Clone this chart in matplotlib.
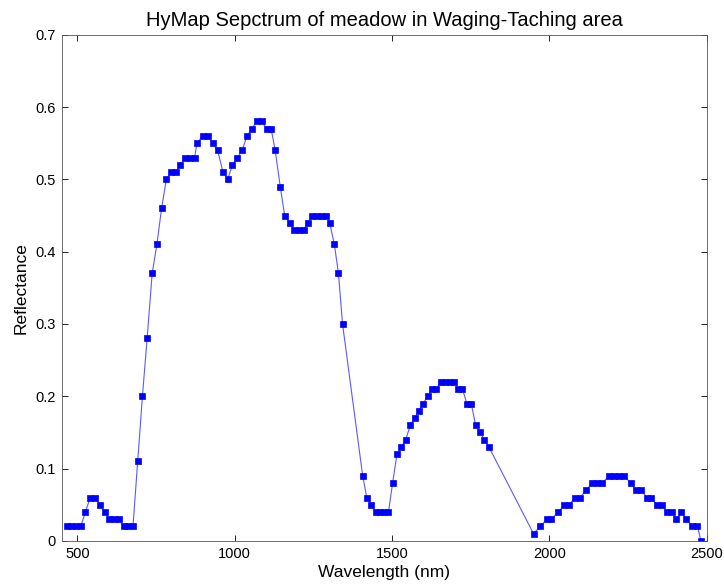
import matplotlib
matplotlib.use("Agg")
import matplotlib.pyplot as plt
from matplotlib.ticker import FuncFormatter

# wavelengths (nm) and reflectance, band by band
wavelength = [
    466, 481, 496, 511, 526, 541, 557, 571, 587, 602, 617, 632, 647, 662,
    677, 692, 707, 722, 738, 753, 768, 783, 798, 813, 828, 843, 858, 873,
    880, 899, 915, 930, 946, 963, 978, 993, 1009, 1024, 1039, 1055, 1070,
    1086, 1102, 1116, 1129, 1145, 1159, 1175, 1190, 1204, 1219, 1232, 1247,
    1262, 1277, 1291, 1302, 1317, 1330, 1343,
    1407, 1420, 1434, 1448, 1461, 1475, 1489, 1502, 1516, 1530, 1544, 1558,
    1572, 1585, 1599, 1613, 1627, 1641, 1655, 1669, 1683, 1697, 1711, 1724,
    1738, 1752, 1766, 1780, 1794, 1808,
    1950, 1971, 1992, 2006, 2029, 2047, 2063, 2082, 2098, 2117, 2136, 2152,
    2168, 2190, 2206, 2222, 2238, 2259, 2276, 2292, 2310, 2324, 2341, 2357,
    2373, 2389, 2404, 2420, 2435, 2455, 2471, 2482,
]
reflectance = [
    0.02, 0.02, 0.02, 0.02, 0.04, 0.06, 0.06, 0.05, 0.04, 0.03, 0.03, 0.03,
    0.02, 0.02, 0.02, 0.11, 0.20, 0.28, 0.37, 0.41, 0.46, 0.50, 0.51, 0.51,
    0.52, 0.53, 0.53, 0.53,
    0.55, 0.56, 0.56, 0.55, 0.54, 0.51, 0.50, 0.52, 0.53, 0.54, 0.56, 0.57,
    0.58, 0.58, 0.57, 0.57, 0.54, 0.49, 0.45, 0.44, 0.43, 0.43, 0.43, 0.44,
    0.45, 0.45, 0.45, 0.45, 0.44, 0.41, 0.37, 0.30,
    0.09, 0.06, 0.05, 0.04, 0.04, 0.04, 0.04, 0.08, 0.12, 0.13, 0.14, 0.16,
    0.17, 0.18, 0.19, 0.20, 0.21, 0.21, 0.22, 0.22, 0.22, 0.22, 0.21, 0.21,
    0.19, 0.19, 0.16, 0.15, 0.14, 0.13,
    0.01, 0.02, 0.03, 0.03, 0.04, 0.05, 0.05, 0.06, 0.06, 0.07, 0.08, 0.08,
    0.08, 0.09, 0.09, 0.09, 0.09, 0.08, 0.07, 0.07, 0.06, 0.06, 0.05, 0.05,
    0.04, 0.04, 0.03, 0.04, 0.03, 0.02, 0.02, 0.00,
]

x_ticks = [500, 1000, 1500, 2000, 2500]
y_ticks = [0, 0.1, 0.2, 0.3, 0.4, 0.5, 0.6, 0.7]

plt.rcParams["font.family"] = ["Liberation Sans", "DejaVu Sans"]

fig = plt.figure(figsize=(7.24, 5.88), dpi=100)
ax = fig.add_axes([0.085, 0.080, 0.891, 0.861])

ax.plot(wavelength, reflectance, color="#5a5aff", linewidth=0.8,
        marker="s", markersize=4, markerfacecolor="blue",
        markeredgecolor="blue", markeredgewidth=0.5)

ax.set_xlim(450, 2500)
ax.set_ylim(0, 0.7)
ax.set_xticks(x_ticks)
ax.set_yticks(y_ticks)
ax.yaxis.set_major_formatter(FuncFormatter(lambda v, p: "0" if v == 0 else f"{v:g}"))
ax.tick_params(direction="in", length=4, width=0.6, top=True, right=True,
               labelsize=10.5, colors="black", pad=4)
for spine in ax.spines.values():
    spine.set_linewidth(0.6)
    spine.set_color("#555555")

ax.set_title("HyMap Sepctrum of meadow in Waging-Taching area", fontsize=14.5, pad=6)
ax.set_xlabel("Wavelength (nm)", fontsize=12.5, labelpad=3)
ax.set_ylabel("Reflectance", fontsize=12.5, labelpad=5)

fig.savefig("out.png", dpi=100)
